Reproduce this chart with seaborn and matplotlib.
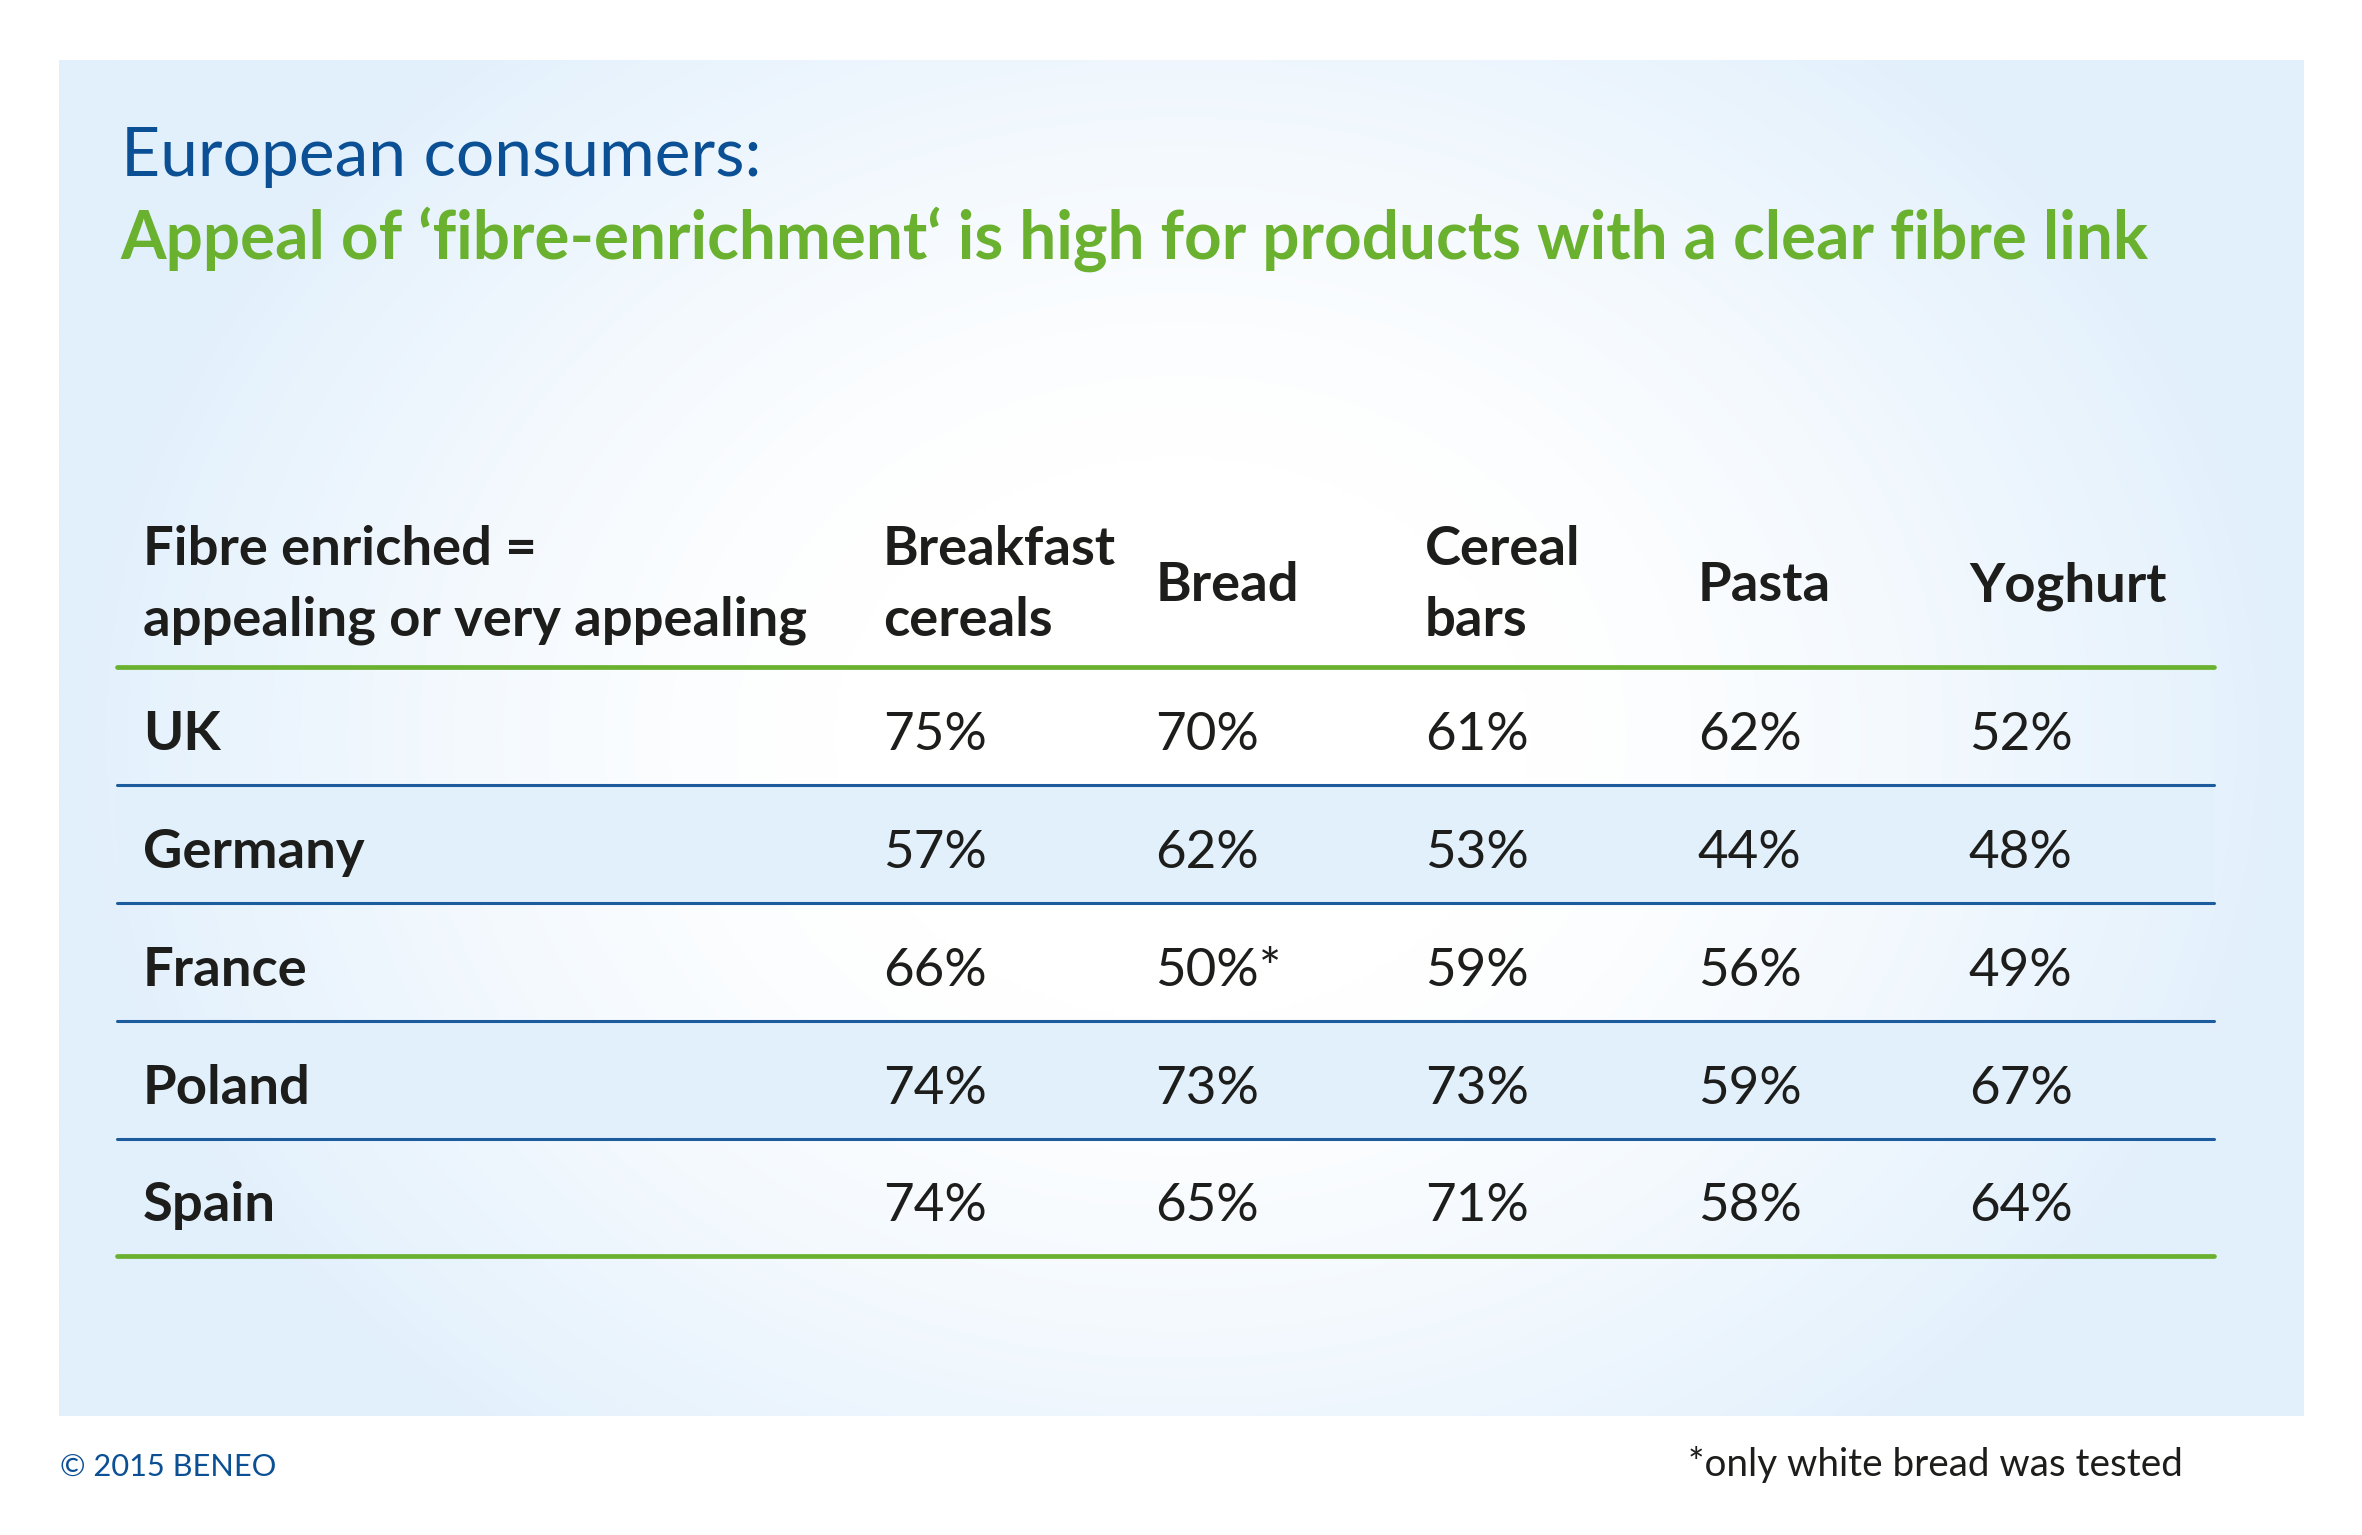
import numpy as np
import pandas as pd
import matplotlib
matplotlib.use("Agg")
import matplotlib.pyplot as plt
from matplotlib.colors import ListedColormap
import seaborn as sns

# ---------------- data ----------------
countries = ["UK", "Germany", "France", "Poland", "Spain"]
products = ["Breakfast\ncereals", "Bread", "Cereal\nbars", "Pasta", "Yoghurt"]
uk      = [75, 70, 61, 62, 52]
germany = [57, 62, 53, 44, 48]
france  = [66, 50, 59, 56, 49]
poland  = [74, 73, 73, 59, 67]
spain   = [74, 65, 71, 58, 64]
footnote_cells = [("France", "Bread")]

title_line1 = "European consumers:"
title_line2 = "Appeal of \u2018fibre-enrichment\u2018 is high for products with a clear fibre link"
header_label = ["Fibre enriched =", "appealing or very appealing"]
copyright_text = "\u00a9 2015 BENEO"
footnote_text = "*only white bread was tested"

values = pd.DataFrame([uk, germany, france, poland, spain], index=countries, columns=products)

# ---------------- style ----------------
sns.set_theme(style="white")
plt.rcParams["font.family"] = ["Lato", "DejaVu Sans"]

DARK_BLUE = "#0b4f94"
GREEN = "#69b12e"
LINE_BLUE = "#1c5c9c"
TEXT = "#1d1d1b"
STRIPE = "#e2f0fc"
EDGE_BLUE = np.array([0xe2, 0xf0, 0xfc]) / 255.0

W, H = 1568.0, 1019.0           # reference layout units
S = 2362.0 / W                  # layout unit -> pixel


def fx(x):
    return x / W


def fy(y):
    return 1 - y / H


fig = plt.figure(figsize=(23.62, 15.35), dpi=100)
fig.patch.set_facecolor("white")

# background panel with soft radial gradient (white centre, light blue edges)
bg = fig.add_axes([fx(39), fy(940), (1529 - 39) / W, (940 - 40) / H], zorder=0)
ny, nx = 300, 500
gx, gy = np.meshgrid(np.linspace(-1, 1, nx), np.linspace(-1, 1, ny))
r = np.sqrt(gx ** 2 + 0.55 * gy ** 2) / np.sqrt(1.55)
t = np.clip((r - 0.25) / 0.55, 0, 1) ** 1.3
img = (1 - t)[..., None] * np.array([1, 1, 1]) + t[..., None] * EDGE_BLUE
bg.imshow(img, aspect="auto", extent=[0, 1, 0, 1], interpolation="bilinear")
bg.set_axis_off()

# table axes
tab = fig.add_axes([fx(78), fy(834), 1392 / W, (834 - 330) / H], zorder=1)
tab.patch.set_alpha(0)
stripe = pd.DataFrame({"s": [i % 2 for i in range(len(countries))]}, index=countries)
sns.heatmap(stripe, mask=(stripe == 0), cmap=ListedColormap([STRIPE]), cbar=False,
            ax=tab, xticklabels=False, yticklabels=False, linewidths=0)
row_h = 78.2
header_top = (443 - 330) / row_h
tab.set_xlim(0, 1)
tab.set_ylim(len(countries), -header_top)
tab.set_axis_off()

tab.axhline(0, color=GREEN, lw=3.4, clip_on=False)
for i in range(1, len(countries)):
    tab.axhline(i, color=LINE_BLUE, lw=2.2, clip_on=False)
tab.axhline(len(countries), color=GREEN, lw=3.4, clip_on=False)

label_x = (95 - 78) / 1392
col_x = [(x - 78) / 1392 for x in (586, 767, 946, 1127, 1307)]

renderer = fig.canvas.get_renderer()


def width_px(tobj):
    return tobj.get_window_extent(renderer).width


# bold header size fitted to reference width
probe = tab.text(0, 0, header_label[1], fontsize=40, fontweight="bold")
bold_size = 40 * (440 * S) / width_px(probe)
probe.remove()
probe = tab.text(0, 0, "75%", fontsize=40)
val_size = 40 * (69 * S) / width_px(probe)
probe.remove()


def ydat(y):
    return (y - 443) / row_h


# header
tab.text(label_x, ydat(375), header_label[0], fontsize=bold_size, fontweight="bold",
         color=TEXT, va="baseline", ha="left")
tab.text(label_x, ydat(422), header_label[1], fontsize=bold_size, fontweight="bold",
         color=TEXT, va="baseline", ha="left")
for x, p in zip(col_x, products):
    lines = p.split("\n")
    if len(lines) == 2:
        tab.text(x, ydat(375), lines[0], fontsize=bold_size, fontweight="bold",
                 color=TEXT, va="baseline", ha="left")
        tab.text(x, ydat(422), lines[1], fontsize=bold_size, fontweight="bold",
                 color=TEXT, va="baseline", ha="left")
    else:
        tab.text(x, ydat(399), p, fontsize=bold_size, fontweight="bold",
                 color=TEXT, va="baseline", ha="left")

# body
for i, c in enumerate(countries):
    yb = i + (498 - 443) / row_h
    tab.text(label_x, yb, c, fontsize=bold_size, fontweight="bold", color=TEXT,
             va="baseline", ha="left")
    for x, p in zip(col_x, products):
        s = f"{values.loc[c, p]}%"
        if (c, p.replace("\n", " ")) in footnote_cells or (c, p) in footnote_cells:
            s += "*"
        tab.text(x, yb, s, fontsize=val_size, color=TEXT, va="baseline", ha="left")

# titles
t1 = fig.text(fx(80), fy(117), title_line1, fontsize=50, color=DARK_BLUE,
              va="baseline", ha="left")
t1.set_fontsize(50 * (425 * S) / width_px(t1))
t2 = fig.text(fx(80), fy(172), title_line2, fontsize=50, color=GREEN,
              fontweight="bold", va="baseline", ha="left")
t2.set_fontsize(50 * (1348 * S) / width_px(t2))

# footer
f1 = fig.text(fx(40), fy(980), copyright_text, fontsize=20, color=DARK_BLUE,
              va="baseline", ha="left")
f1.set_fontsize(20 * (143 * S) / width_px(f1))
f2 = fig.text(fx(1449), fy(980), footnote_text, fontsize=20, color=TEXT,
              va="baseline", ha="right")
f2.set_fontsize(20 * (329 * S) / width_px(f2))

fig.savefig("out.png", dpi=100, facecolor="white")
